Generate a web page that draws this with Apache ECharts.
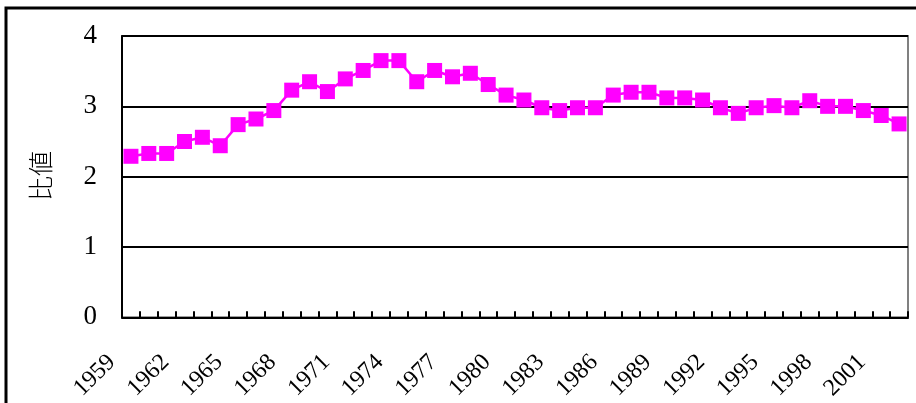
<!DOCTYPE html>
<html><head><meta charset="utf-8">
<script src="https://cdn.jsdelivr.net/npm/echarts@6/dist/echarts.min.js"></script>
<style>html,body{margin:0;padding:0;background:#fff}#c{width:916px;height:403px}</style>
</head><body><div id="c"></div>
<script>
const years = [];
for (let y = 1959; y <= 2002; y++) years.push(String(y));
const ratio = [2.29,2.33,2.33,2.50,2.56,2.44,2.74,2.82,2.94,3.23,3.35,3.21,3.39,3.51,3.65,3.65,3.35,3.51,3.42,
  3.47,3.31,3.16,3.09,2.98,2.94,2.98,2.98,3.16,3.20,3.20,3.12,3.12,3.09,2.98,2.90,2.98,3.01,2.98,3.08,3.00,3.00,2.94,2.87,2.75];
const yTicks = [0,1,2,3,4];
const yName = '比値';

const chart = echarts.init(document.getElementById('c'));
chart.setOption({
  animation: false,
  grid: { left: 122, top: 36, right: 8, bottom: 85, containLabel: false, show: true, borderColor: '#808080', borderWidth: 2, backgroundColor: 'transparent' },
  graphic: [
    { type: 'rect', shape: { x: 6, y: 8, width: 960, height: 450 }, style: { fill: 'none', stroke: '#000', lineWidth: 3 }, silent: true },
    { type: 'text', x: 40, y: 176, rotation: Math.PI/2, style: { text: yName, font: '300 25px "Noto Sans CJK TC"', fill: '#000', align: 'center', verticalAlign: 'middle' } }
  ],
  xAxis: {
    type: 'category', data: years, boundaryGap: true,
    axisLine: { lineStyle: { color: '#000', width: 2 } },
    axisTick: { show: true, inside: true, interval: 0, length: 6, lineStyle: { color: '#000', width: 2 } },
    axisLabel: { interval: 2, rotate: 45, margin: 22, padding: [0, 27, 0, 0], fontFamily: 'Liberation Serif', fontSize: 24, color: '#000' }
  },
  yAxis: {
    type: 'value', min: yTicks[0], max: yTicks[yTicks.length-1], interval: 1,
    axisLine: { show: true, lineStyle: { color: '#000', width: 2 } },
    axisTick: { show: false },
    splitLine: { lineStyle: { color: '#000', width: 2 } },
    axisLabel: { margin: 25, fontFamily: 'Liberation Serif', fontSize: 27, color: '#000' }
  },
  series: [{
    type: 'line', data: ratio, symbol: 'rect', symbolSize: 15, showAllSymbol: true,
    lineStyle: { color: '#FF00FF', width: 2.5 },
    itemStyle: { color: '#FF00FF' }
  }]
});
</script></body></html>
